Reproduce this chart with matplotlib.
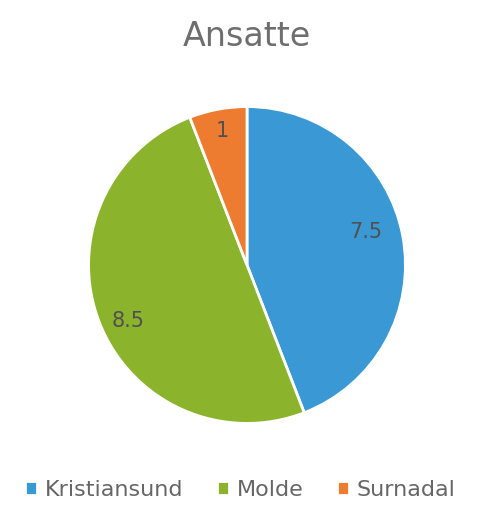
import matplotlib
matplotlib.use("Agg")
import matplotlib.pyplot as plt
import numpy as np

categories = ["Kristiansund", "Molde", "Surnadal"]
values = [7.5, 8.5, 1]
labels_txt = ["7.5", "8.5", "1"]
colors = ["#3a98d4", "#8cb32c", "#ee7c30"]

plt.rcParams['font.family'] = ['DejaVu Sans']

fig = plt.figure(figsize=(4.85, 5.11), dpi=100)
ax = fig.add_axes([(247-160)/485, 1-(265+160)/511, 320/485, 320/511])
wedges, texts = ax.pie(values, colors=colors, startangle=90, counterclock=False,
                       wedgeprops=dict(edgecolor="white", linewidth=2))
ax.set_xlim(-1.01, 1.01)
ax.set_ylim(-1.01, 1.01)
ax.set_aspect('equal')
dist = [0.78, 0.83, 0.86]
offs = [5, 4, 0]
for w, t, d, o in zip(wedges, labels_txt, dist, offs):
    ang = np.deg2rad((w.theta1 + w.theta2) / 2 + o)
    ax.text(d*np.cos(ang), d*np.sin(ang), t, ha='center', va='center',
            fontsize=15, color='#505050')

fig.text(0.508, 1-36/511, "Ansatte", ha='center', va='center', fontsize=24,
         color='#6e6e6e')

leg = fig.legend(wedges, categories, loc='center', bbox_to_anchor=(0.495, 1-490/511),
                 ncol=3, frameon=False, fontsize=16, handlelength=0.55, handleheight=0.55,
                 handletextpad=0.35, columnspacing=1.5, labelcolor='#666666')
fig.savefig("out.png", dpi=100, facecolor='white')
